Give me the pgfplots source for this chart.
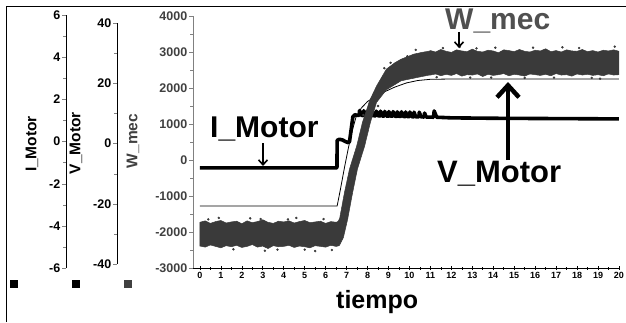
\documentclass[border=0pt]{standalone}
\usepackage{fontspec}
\setmainfont{Liberation Sans}
\usepackage{pgfplots}
\pgfplotsset{compat=1.18}
\usetikzlibrary{arrows.meta}
\definecolor{wcol}{RGB}{58,58,58}
\definecolor{wlab}{RGB}{64,64,64}
\definecolor{wtitle}{RGB}{80,80,80}
\definecolor{spinegray}{RGB}{128,128,128}
\newcommand{\tl}[1]{\textbf{#1}}
\pgfplotsset{
  mainarea/.style={at={(193pt,54pt)},anchor=south west,width=427pt,height=252pt,
    scale only axis,xmin=-0.33,xmax=20.05},
  spine/.style={anchor=south west,width=1pt,scale only axis,hide x axis,xmin=0,xmax=1,
    axis y line=left,axis line style={-,line width=0.8pt},ytick align=outside,
    minor y tick num=1,major tick length=4pt,minor tick length=3pt,
    yticklabel style={font=\fontsize{12.5}{12.5}\selectfont\bfseries,inner sep=1.5pt}},
}
\begin{document}
\begin{tikzpicture}[x=1pt,y=1pt]
\path[use as bounding box] (0,0) rectangle (626,322);
\draw[line width=1pt] (6,0) -- (6,315) -- (626,315);

% I_Motor spine
\begin{axis}[spine,at={(66pt,54pt)},height=253pt,ymin=-6,ymax=6,
  ytick={-6,-4,-2,0,2,4,6},yticklabels={\tl{-6},\tl{-4},\tl{-2},\tl{0},\tl{2},\tl{4},\tl{6}}]
\end{axis}
% V_Motor spine
\begin{axis}[spine,at={(117pt,58pt)},height=241pt,ymin=-40,ymax=40,
  ytick={-40,-20,0,20,40},yticklabels={\tl{-40},\tl{-20},\tl{0},\tl{20},\tl{40}}]
\end{axis}
% W_mec axis and time axis
\begin{axis}[mainarea,ymin=-3000,ymax=4000,
  axis x line=bottom,axis y line=left,axis line style={-},
  x axis line style={black,line width=0.8pt},
  y axis line style={spinegray,line width=0.8pt},
  xtick={0,...,20},minor x tick num=1,xtick align=center,
  xticklabels={\tl{0},\tl{1},\tl{2},\tl{3},\tl{4},\tl{5},\tl{6},\tl{7},\tl{8},\tl{9},\tl{10},
    \tl{11},\tl{12},\tl{13},\tl{14},\tl{15},\tl{16},\tl{17},\tl{18},\tl{19},\tl{20}},
  ytick={-3000,-2000,-1000,0,1000,2000,3000,4000},
  yticklabels={\tl{-3000},\tl{-2000},\tl{-1000},\tl{0},\tl{1000},\tl{2000},\tl{3000},\tl{4000}},
  minor y tick num=1,ytick align=outside,
  major tick length=4pt,minor tick length=3pt,
  x tick style={black,line width=0.6pt},
  y tick style={spinegray,line width=0.6pt},
  xticklabel style={font=\fontsize{9}{9}\selectfont\bfseries,inner sep=2pt},
  yticklabel style={font=\fontsize{12.5}{12.5}\selectfont\bfseries,text=wlab,inner sep=1.5pt}]
\end{axis}

% I_Motor data
\begin{axis}[mainarea,ymin=-6,ymax=6,hide axis]
\addplot[black,line width=3.6pt,line join=round] coordinates {
(0,-1.23)(6.54,-1.23)(6.55,0.08)(6.65,0.13)(6.8,0.1)(6.95,0.02)(7.08,-0.03)(7.14,0.02)
(7.3,1.2)(7.4,1.3)(7.5,1.27)
(7.6,1.27)(7.62,1.5)(7.7,1.27)(7.8,1.26)(7.82,1.49)(7.9,1.26)(8.0,1.26)(8.02,1.48)(8.1,1.26)
(8.2,1.25)(8.22,1.48)(8.3,1.25)(8.4,1.25)(8.42,1.47)(8.5,1.25)(8.6,1.24)(8.62,1.47)(8.7,1.24)
(8.8,1.24)(8.82,1.46)(8.9,1.24)(9.0,1.23)(9.02,1.45)(9.1,1.23)(9.2,1.23)(9.22,1.45)(9.3,1.23)
(9.4,1.22)(9.42,1.44)(9.5,1.22)(9.6,1.22)(9.62,1.44)(9.7,1.22)(9.8,1.21)(9.82,1.43)(9.9,1.21)
(10.0,1.21)(10.02,1.43)(10.1,1.21)(10.2,1.2)(10.22,1.42)(10.3,1.2)(10.45,1.2)(10.47,1.42)(10.55,1.2)
(10.7,1.19)(10.72,1.38)(10.8,1.19)(11.15,1.18)(11.18,1.48)(11.3,1.18)
(12,1.15)(14,1.13)(16,1.12)(18,1.11)(20,1.1)};
\end{axis}

% V_Motor data
\begin{axis}[mainarea,ymin=-41.5,ymax=42.5,hide axis]
\addplot[black,line width=0.8pt] coordinates {
(0,-20.8)(6.55,-20.8)(6.7,-15.5)(6.9,-8)(7.1,-1)(7.3,5)(7.45,8.8)(7.7,11.8)
(8.0,14)(8.4,15.8)(8.8,17.2)(9.3,18.8)(9.86,20.2)(10.4,21)(11,21.4)(12,21.5)(20,21.5)};
\end{axis}

% W_mec data (noise band envelope)
\begin{axis}[mainarea,ymin=-3000,ymax=4000,hide axis]
\addplot[fill=wcol,draw=wcol,line width=0.5pt] coordinates {
(0,-1730)(0.25,-1690)(0.5,-1760)(0.75,-1710)(1,-1680)(1.25,-1750)(1.5,-1720)(1.75,-1700)
(2,-1770)(2.25,-1690)(2.5,-1740)(2.75,-1710)(3,-1660)(3.25,-1730)(3.5,-1760)(3.75,-1700)
(4,-1720)(4.25,-1690)(4.5,-1750)(4.75,-1710)(5,-1680)(5.25,-1740)(5.5,-1720)(5.75,-1700)
(6,-1760)(6.25,-1710)(6.5,-1730)
(6.55,-1720)(6.6,-1700)(6.67,-1620)(6.9,-900)(7.14,-250)(7.48,385)(7.76,1050)(8.1,1650)
(8.43,2055)(8.9,2525)(9.3,2700)(9.6,2800)(10.2,2940)(10.6,2990)(10.95,3025)
(11,3040)(11.25,3000)(11.5,3070)(11.75,3020)(12,2990)(12.25,3060)(12.5,3030)(12.75,3010)
(13,3080)(13.25,3020)(13.5,3000)(13.75,3050)(14,3030)(14.25,2980)(14.5,3060)(14.75,3040)
(15,3010)(15.25,3070)(15.5,3020)(15.75,3000)(16,3050)(16.25,3030)(16.5,3090)(16.75,3010)
(17,3040)(17.25,3000)(17.5,3060)(17.75,3030)(18,3020)(18.25,3070)(18.5,3010)(18.75,3040)
(19,3000)(19.25,3050)(19.5,3030)(19.75,3060)(20,3020)
(20,2370)(19.75,2360)(19.5,2390)(19.25,2340)(19,2370)(18.75,2350)(18.5,2380)(18.25,2360)
(18,2390)(17.75,2330)(17.5,2370)(17.25,2360)(17,2400)(16.75,2340)(16.5,2380)(16.25,2350)
(16,2370)(15.75,2390)(15.5,2330)(15.25,2360)(15,2380)(14.75,2340)(14.5,2400)(14.25,2370)
(14,2350)(13.75,2380)(13.5,2320)(13.25,2390)(13,2360)(12.75,2370)(12.5,2330)(12.25,2400)
(12,2350)(11.75,2380)(11.5,2340)(11.25,2390)(11,2360)
(10.95,2360)(10.1,2260)(9.6,2200)(8.9,1950)(8.43,1600)(8.14,1050)(7.86,385)(7.52,-250)
(7.29,-900)(7.05,-1650)(6.85,-2150)(6.65,-2380)
(6.5,-2400)(6.25,-2370)(6,-2420)(5.75,-2400)(5.5,-2380)(5.25,-2440)(5,-2410)(4.75,-2390)
(4.5,-2430)(4.25,-2370)(4,-2400)(3.75,-2410)(3.5,-2380)(3.25,-2460)(3,-2390)(2.75,-2420)
(2.5,-2350)(2.25,-2400)(2,-2430)(1.75,-2370)(1.5,-2410)(1.25,-2380)(1,-2440)(0.75,-2400)
(0.5,-2360)(0.25,-2420)(0,-2390)} -- cycle;
\addplot[only marks,mark=*,mark size=1pt,wcol] coordinates {
(0.9,-1610)(2.4,-1620)(3.1,-2520)(4.6,-1610)(5.5,-2530)(9.1,2700)(12.4,3140)
(14.1,3120)(17.3,3130)(15.5,2280)(19.1,2260)(8.5,1500)(10.3,3060)(19.8,3150)
(0.4,-1650)(1.6,-2480)(2.9,-1640)(3.7,-2490)(4.2,-1650)(5.0,-2490)(5.9,-1640)(6.3,-2500)
(11.6,3110)(13.2,3100)(13.9,2290)(15.9,3120)(16.9,2290)(18.1,3110)(18.7,2280)(7.8,1250)
(8.8,2550)(9.9,2880)(11.3,2300)(12.9,2290)};
\end{axis}

% annotations
\node[anchor=base west,inner sep=0,font=\fontsize{30}{30}\selectfont\bfseries] at (210,185) {I\_Motor};
\draw[line width=1.6pt,-{Straight Barb[length=5pt,width=9pt]}] (263,179) -- (263,156);
\node[anchor=base west,inner sep=0,text=wtitle,font=\fontsize{30}{30}\selectfont\bfseries] at (445,292) {W\_mec};
\draw[line width=1.6pt,-{Straight Barb[length=5pt,width=9pt]}] (459,290) -- (459,274);
\node[anchor=base west,inner sep=0,font=\fontsize{31}{31}\selectfont\bfseries] at (437,140) {V\_Motor};
\draw[line width=4.5pt,-{Straight Barb[length=12pt,width=22pt]}] (508,162) -- (508,240);
\node[anchor=base west,inner sep=0,font=\fontsize{25}{25}\selectfont\bfseries] at (336,14) {tiempo};

\node[rotate=90,font=\fontsize{15.5}{15.5}\selectfont\bfseries] at (32,178) {I\_Motor};
\node[rotate=90,font=\fontsize{15.5}{15.5}\selectfont\bfseries] at (76,179) {V\_Motor};
\node[rotate=90,text=wlab,font=\fontsize{15.5}{15.5}\selectfont\bfseries] at (133,181) {W\_mec};

\fill[black] (10,34) rectangle (18,42);
\fill[black] (72,34) rectangle (80,42);
\fill[wlab] (124,34) rectangle (132,42);
\end{tikzpicture}
\end{document}
